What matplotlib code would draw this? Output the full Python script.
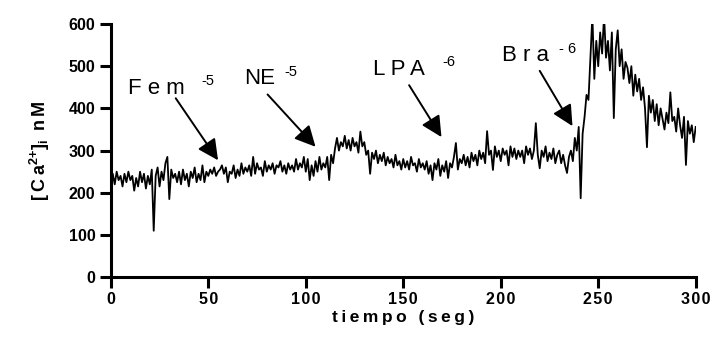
import numpy as np
import matplotlib
matplotlib.use("Agg")
import matplotlib.pyplot as plt
from matplotlib.ticker import FuncFormatter

plt.rcParams['font.family'] = ['Liberation Sans', 'DejaVu Sans']
plt.rcParams['mathtext.fontset'] = 'custom'
plt.rcParams['mathtext.rm'] = 'Liberation Sans:bold'
plt.rcParams['mathtext.it'] = 'Liberation Sans:bold'
plt.rcParams['mathtext.bf'] = 'Liberation Sans:bold'

# calcium trace, one reading per second (0..300 s)
ca = [
    225, 245, 220, 250, 230, 240, 215, 245, 225, 250,
    230, 240, 205, 235, 215, 250, 225, 245, 210, 240,
    220, 255, 110, 240, 260, 215, 250, 230, 270, 285,
    185, 255, 235, 245, 225, 250, 220, 255, 230, 245,
    215, 250, 235, 260, 225, 245, 230, 265, 225, 250,
    240, 255, 245, 260, 240, 250, 255, 265, 245, 260,
    225, 250, 245, 265, 235, 255, 240, 270, 245, 260,
    250, 265, 240, 285, 245, 270, 255, 260, 240, 275,
    250, 265, 255, 270, 245, 265, 260, 275, 250, 265,
    245, 270, 255, 265, 250, 280, 255, 270, 260, 285,
    250, 280, 230, 265, 240, 275, 250, 285, 255, 270,
    260, 285, 230, 290, 270, 305, 330, 300, 320, 310,
    335, 305, 325, 300, 330, 310, 320, 295, 345, 310,
    320, 290, 300, 245, 295, 280, 300, 270, 290, 275,
    295, 265, 285, 270, 280, 260, 290, 265, 275, 255,
    280, 260, 275, 255, 285, 265, 270, 250, 280, 260,
    270, 255, 275, 245, 265, 230, 270, 255, 280, 240,
    265, 250, 275, 235, 270, 260, 285, 318, 255, 280,
    270, 290, 265, 285, 260, 295, 275, 290, 265, 300,
    280, 295, 270, 346, 290, 300, 254, 310, 285, 300,
    275, 305, 290, 300, 265, 310, 285, 305, 280, 300,
    285, 300, 270, 310, 290, 305, 280, 300, 365, 290,
    258, 300, 285, 310, 275, 295, 280, 305, 270, 290,
    300, 270, 290, 265, 247, 285, 300, 275, 330, 300,
    356, 187, 340, 380, 432, 420, 520, 620, 470, 560,
    500, 580, 530, 620, 520, 560, 490, 580, 377, 540,
    585, 500, 540, 470, 510, 496, 460, 500, 430, 480,
    440, 470, 420, 450, 400, 308, 430, 390, 420, 370,
    410, 360, 400, 375, 350, 390, 365, 438, 370, 380,
    345, 400, 360, 330, 380, 266, 370, 340, 360, 320,
    356,
]
t = np.arange(len(ca))

# stimuli: name, exponent, text pos, exponent pos, arrow start, arrow tip
stim_names = ["F e m", "NE", "L P A", "B r a"]
stim_exp = ["-5", "-5", "-6", "- 6"]
stim_text_xy = [(23.6, 448), (76.4, 472), (147.7, 492), (212.8, 526)]
stim_exp_xy = [(49.7, 464), (92.5, 486), (173.5, 510), (234.4, 541)]
stim_arrow_from = [(33.3, 424), (80.4, 433), (153, 455), (220, 489)]
stim_arrow_to = [(55, 277), (105, 309), (169.6, 332), (236.8, 358)]

fig = plt.figure(figsize=(7.15, 3.38), dpi=100)
ax = fig.add_axes([0.155, 0.180, 0.818, 0.749])

ax.plot(t, ca, color='black', lw=1.3)

ax.set_xlim(0, 300)
ax.set_ylim(0, 600)
ax.set_xticks(np.arange(0, 301, 50))
ax.set_yticks(np.arange(0, 601, 100))

for s in ['top', 'right']:
    ax.spines[s].set_visible(False)
for s in ['left', 'bottom']:
    ax.spines[s].set_linewidth(2.2)

ax.tick_params(width=2.2, length=8, labelsize=11.5, pad=3)
spaced = FuncFormatter(lambda v, p: "\u200a".join(str(int(v))))
ax.xaxis.set_major_formatter(spaced)
for lab in ax.get_xticklabels() + ax.get_yticklabels():
    lab.set_fontweight('bold')

ax.set_xlabel("\u2009".join("tiempo (seg)"), fontsize=12.5, fontweight='bold', labelpad=2)
ax.set_ylabel("[\u2009C\u2009a$^{2{+}}$]$_{i}$ \u2009n\u2009M", fontsize=13,
              fontweight='bold', labelpad=12)

for name, ex, txy, exy, a0, a1 in zip(stim_names, stim_exp, stim_text_xy, stim_exp_xy,
                                     stim_arrow_from, stim_arrow_to):
    ax.text(txy[0], txy[1], name, fontsize=16, ha='center', va='center')
    ax.text(exy[0], exy[1], ex, fontsize=10.5, ha='center', va='center')
    ax.annotate("", xy=a1, xytext=a0,
                arrowprops=dict(arrowstyle="-|>,head_length=0.9,head_width=0.45",
                                color='black', lw=1.4, mutation_scale=14,
                                shrinkA=0, shrinkB=0))

fig.savefig("out.png", dpi=100)
